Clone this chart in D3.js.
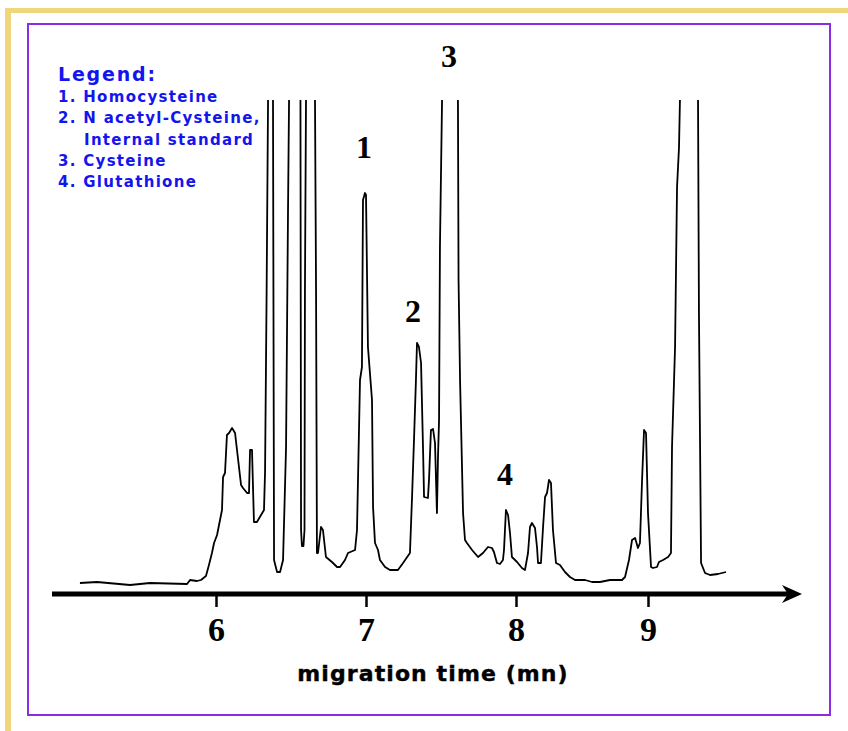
<!DOCTYPE html>
<html>
<head>
<meta charset="utf-8">
<script src="https://cdn.jsdelivr.net/npm/d3@7"></script>
<style>
body { margin: 0; background: #fff; }
</style>
</head>
<body>
<script>
// migration time (mn) and detector signal (arbitrary units), null = trace off scale
var minutes = [
  5.093,5.207,5.427,5.560,5.807,5.827,5.873,5.900,5.933,5.953,
  5.973,5.987,6.007,6.040,6.047,6.060,6.073,6.087,6.107,6.127,
  6.167,6.180,6.207,6.220,6.227,6.240,6.253,6.273,6.320,6.327,
  6.337,6.347,6.363,6.380,6.387,6.407,6.427,6.447,6.467,6.480,
  6.487,6.527,6.563,6.567,6.573,6.583,6.590,6.593,6.600,6.627,
  6.660,6.667,6.673,6.680,6.700,6.713,6.733,6.773,6.807,6.827,
  6.860,6.880,6.927,6.940,6.960,6.973,6.980,6.993,7.000,7.013,
  7.040,7.047,7.060,7.080,7.093,7.127,7.160,7.213,7.247,7.293,
  7.307,7.320,7.333,7.340,7.353,7.367,7.380,7.387,7.413,7.420,
  7.433,7.447,7.460,7.473,7.480,7.487,7.493,7.507,7.560,7.613,
  7.617,7.627,7.647,7.660,7.673,7.707,7.747,7.780,7.813,7.840,
  7.853,7.873,7.893,7.913,7.920,7.933,7.947,7.960,7.973,8.008,
  8.045,8.068,8.091,8.106,8.121,8.144,8.159,8.167,8.189,8.205,
  8.220,8.235,8.250,8.265,8.280,8.303,8.333,8.371,8.409,8.447,
  8.523,8.576,8.636,8.712,8.803,8.826,8.856,8.879,8.902,8.924,
  8.939,8.955,8.970,8.985,9.000,9.023,9.038,9.068,9.083,9.114,
  9.152,9.174,9.182,9.205,9.220,9.235,9.242,9.318,9.379,9.386,
  9.402,9.432,9.470,9.530,9.591
];
var signal = [
  7,8,5,7,6,10,9,10,14,25,
  37,47,55,80,113,117,155,157,162,157,
  105,102,97,97,140,140,68,68,80,118,
  290,490,null,490,30,18,18,30,143,377,
  490,null,490,60,44,44,60,300,490,null,
  490,300,37,37,63,60,33,28,23,23,
  30,37,40,60,210,223,390,397,395,243,
  190,83,47,40,30,23,20,20,27,37,
  93,150,210,247,243,227,143,93,92,110,
  160,161,147,77,133,170,343,490,null,490,
  310,210,77,50,47,40,33,37,43,42,
  38,27,26,30,40,80,75,57,33,28,
  22,20,37,63,67,62,43,27,27,63,
  93,97,110,107,60,27,25,18,13,10,
  10,8,8,10,10,13,30,50,52,42,
  47,110,160,157,77,23,22,23,28,30,
  33,37,143,243,403,443,490,null,490,277,
  27,17,15,16,18
];

var tickValues = [6, 7, 8, 9];
var tickPixels = [216, 366, 516, 648];

var peakNames = ["1", "2", "3", "4"];
var peakTimes = [6.987, 7.313, 7.553, 7.927];
var peakLabelLevel = [432, 268, 523, 105];

var legendTitle = "Legend:";
var legendItems = ["1. Homocysteine", "2. N acetyl-Cysteine,", "Internal standard", "3. Cysteine", "4. Glutathione"];
var axisTitle = "migration time (mn)";

var width = 848, height = 731;
var serif = "'Liberation Serif', 'Times New Roman', serif";
var sans = "'DejaVu Sans', Verdana, sans-serif";

var svg = d3.select("body").append("svg")
  .attr("width", width)
  .attr("height", height);

// frame
svg.append("rect").attr("x", 5).attr("y", 8).attr("width", width - 5).attr("height", 5).attr("fill", "#efd67a");
svg.append("rect").attr("x", 5).attr("y", 8).attr("width", 6).attr("height", height - 8).attr("fill", "#efd67a");
svg.append("rect")
  .attr("x", 28).attr("y", 24).attr("width", 802).attr("height", 691)
  .attr("fill", "none").attr("stroke", "#8b2be2").attr("stroke-width", 2);

var x = d3.scaleLinear().domain(tickValues).range(tickPixels);
var y = d3.scaleLinear().domain([0, 490]).range([590, 100]);

// axis with arrow
var axisY = 594;
svg.append("line")
  .attr("x1", 52).attr("x2", 790)
  .attr("y1", axisY).attr("y2", axisY)
  .attr("stroke", "#000").attr("stroke-width", 5);
svg.append("path")
  .attr("d", "M802," + axisY + "L782," + (axisY - 9) + "L788," + axisY + "L782," + (axisY + 9) + "Z")
  .attr("fill", "#000");

svg.append("g")
  .attr("transform", "translate(0," + axisY + ")")
  .call(d3.axisBottom(x).tickValues(tickValues).tickSize(13).tickPadding(10).tickFormat(d3.format("d")))
  .call(g => g.select(".domain").remove())
  .call(g => g.selectAll(".tick line").attr("stroke", "#000").attr("stroke-width", 2.5))
  .call(g => g.selectAll(".tick text")
    .attr("fill", "#000")
    .attr("font-family", serif)
    .attr("font-weight", "bold")
    .attr("font-size", 34));

svg.append("text")
  .attr("x", 433).attr("y", 681)
  .attr("text-anchor", "middle")
  .attr("font-family", sans)
  .attr("font-weight", "bold")
  .attr("font-size", 22)
  .attr("letter-spacing", 1.1)
  .attr("stroke", "#000")
  .attr("stroke-width", 0.4)
  .text(axisTitle);

// trace
var line = d3.line()
  .defined(d => d[1] != null)
  .x(d => x(d[0]))
  .y(d => y(d[1]));

svg.append("path")
  .datum(d3.zip(minutes, signal))
  .attr("fill", "none")
  .attr("stroke", "#000")
  .attr("stroke-width", 1.8)
  .attr("stroke-linejoin", "round")
  .attr("d", line);

// peak numbers
svg.append("g").selectAll("text")
  .data(peakNames)
  .join("text")
    .attr("x", (d, i) => x(peakTimes[i]))
    .attr("y", (d, i) => y(peakLabelLevel[i]))
    .attr("text-anchor", "middle")
    .attr("font-family", serif)
    .attr("font-weight", "bold")
    .attr("font-size", 32)
    .text(d => d);

// legend
var legend = svg.append("g")
  .attr("fill", "#1414ee")
  .attr("font-family", sans)
  .attr("font-weight", "bold");

legend.append("text")
  .attr("x", 58).attr("y", 81)
  .attr("font-size", 19)
  .attr("letter-spacing", 1.8)
  .text(legendTitle);

legend.selectAll("text.item")
  .data(legendItems)
  .join("text")
    .attr("class", "item")
    .attr("x", d => /^\d/.test(d) ? 58 : 84)
    .attr("y", (d, i) => 102 + i * 21.3)
    .attr("font-size", 15)
    .attr("letter-spacing", 1.3)
    .text(d => d);
</script>
</body>
</html>
